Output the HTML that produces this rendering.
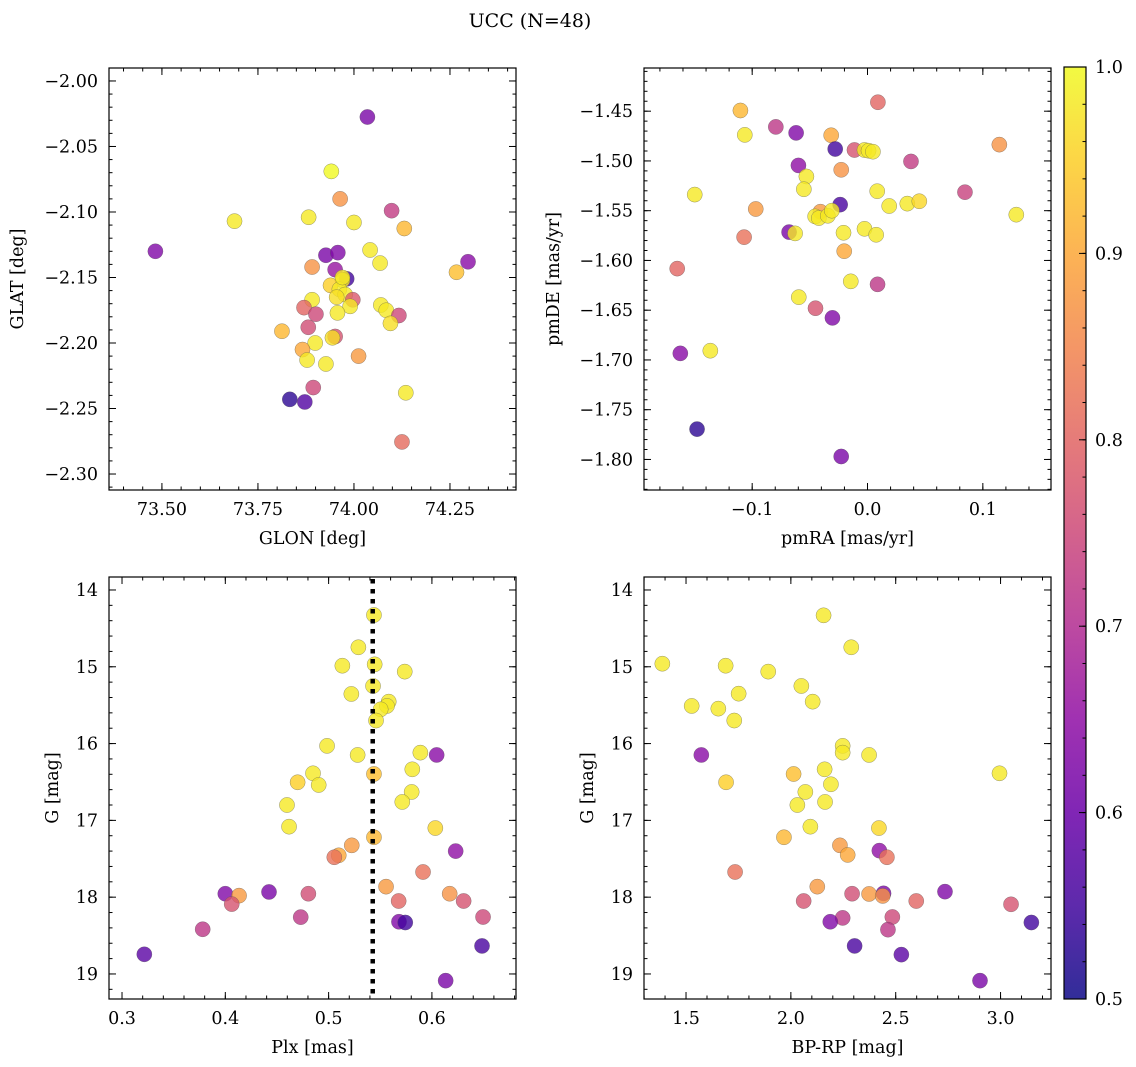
<!DOCTYPE html>
<html><head><meta charset="utf-8"><style>
html,body{margin:0;padding:0;background:#fff;}
svg{display:block;font-family:"DejaVu Serif","Liberation Serif",serif;}
</style></head><body>
<svg id="fig" width="1136" height="1067" viewBox="0 0 1136 1067" xmlns="http://www.w3.org/2000/svg">
<defs><linearGradient id="cbgrad" x1="0" y1="1" x2="0" y2="0"></linearGradient></defs>
<text x="530" y="27" text-anchor="middle" font-size="19">UCC (N=48)</text>
</svg>
<script>
// Panel 1: GLON vs GLAT
const glon = [74.035,73.941,73.964,74.098,73.882,74.0,74.131,73.689,73.483,73.927,73.958,74.042,74.068,74.297,74.267,73.891,73.951,73.981,73.97,73.939,73.962,73.977,73.997,73.99,73.891,73.870,73.901,74.070,74.084,74.117,74.095,73.957,73.881,73.8125,73.951,73.944,73.899,73.866,73.878,73.927,74.012,73.894,73.833,73.872,74.135,74.125,73.97,73.955];
const glat = [-2.0275,-2.069,-2.090,-2.099,-2.104,-2.108,-2.1126,-2.107,-2.130,-2.133,-2.131,-2.129,-2.139,-2.138,-2.146,-2.142,-2.144,-2.151,-2.152,-2.156,-2.159,-2.163,-2.167,-2.172,-2.167,-2.173,-2.178,-2.171,-2.175,-2.179,-2.185,-2.177,-2.188,-2.191,-2.195,-2.196,-2.2,-2.205,-2.213,-2.216,-2.210,-2.234,-2.243,-2.245,-2.238,-2.2755,-2.150,-2.165];
const prob1 = [0.62,1.0,0.87,0.73,0.98,0.98,0.92,0.98,0.63,0.62,0.63,0.98,0.98,0.64,0.93,0.87,0.66,0.55,0.98,0.95,0.98,0.98,0.78,0.98,0.98,0.8,0.75,0.98,0.98,0.75,0.97,0.98,0.76,0.92,0.77,0.97,0.98,0.9,0.98,0.98,0.88,0.75,0.53,0.57,0.98,0.81,0.98,0.97];
// Panel 2: proper motions
const pmra = [-0.1102,-0.1064,0.009,-0.0795,-0.0619,-0.0315,-0.028,-0.0113,-0.0026,0.0009,0.0047,0.1143,0.0377,-0.0599,-0.0228,-0.053,-0.0552,0.0084,-0.1498,0.0845,0.0188,0.0345,0.0449,0.129,-0.0969,-0.0237,-0.0408,-0.0454,-0.0422,-0.0344,-0.0309,-0.0026,0.0075,-0.0208,-0.068,-0.0628,-0.107,-0.0202,-0.165,-0.0145,0.0087,-0.0596,-0.0451,-0.0304,-0.1623,-0.1363,-0.1478,-0.0228];
const pmde = [-1.4493,-1.4738,-1.441,-1.4658,-1.4718,-1.4742,-1.488,-1.489,-1.489,-1.4897,-1.4907,-1.4836,-1.5005,-1.5045,-1.5089,-1.5156,-1.5284,-1.5304,-1.5338,-1.5314,-1.5453,-1.5429,-1.5405,-1.554,-1.5483,-1.5439,-1.551,-1.5557,-1.5574,-1.5551,-1.550,-1.5682,-1.5742,-1.5722,-1.5715,-1.5728,-1.5766,-1.5907,-1.6082,-1.621,-1.624,-1.6369,-1.648,-1.6577,-1.6934,-1.6907,-1.7695,-1.797];
const prob2 = [0.92,0.98,0.8,0.72,0.63,0.9,0.55,0.77,0.98,0.98,0.98,0.87,0.73,0.65,0.87,0.98,0.98,0.98,0.98,0.74,0.98,0.98,0.96,0.98,0.88,0.56,0.88,0.98,0.98,0.98,0.98,0.98,0.98,0.98,0.62,0.98,0.82,0.9,0.8,0.98,0.72,0.98,0.77,0.63,0.64,0.98,0.53,0.62];
// Panels 3 & 4: CMD
const plx = [0.5439,0.5288,0.5133,0.5446,0.5737,0.543,0.522,0.5582,0.5565,0.5504,0.5459,0.4985,0.5281,0.5888,0.6046,0.581,0.5439,0.4849,0.470,0.4904,0.5804,0.5713,0.4597,0.4617,0.6033,0.5439,0.5224,0.623,0.5098,0.5055,0.5914,0.5556,0.4,0.4133,0.4423,0.4804,0.6172,0.4062,0.5678,0.6307,0.473,0.6495,0.5681,0.5742,0.3781,0.3216,0.6485,0.6133];
const gmag = [14.326,14.746,14.986,14.968,15.063,15.25,15.354,15.454,15.51,15.554,15.70,16.03,16.148,16.118,16.148,16.335,16.396,16.387,16.504,16.539,16.63,16.76,16.80,17.082,17.10,17.22,17.325,17.40,17.455,17.48,17.672,17.863,17.955,17.98,17.932,17.955,17.955,18.09,18.05,18.05,18.26,18.258,18.32,18.33,18.418,18.744,18.635,19.087];
const gmag4 = [14.33,14.746,14.96,14.986,15.063,15.25,15.35,15.454,15.51,15.545,15.70,16.03,16.118,16.148,16.148,16.335,16.396,16.387,16.504,16.53,16.63,16.76,16.80,17.082,17.10,17.22,17.325,17.394,17.45,17.48,17.672,17.863,17.928,17.958,17.95,17.955,17.984,18.093,18.05,18.05,18.27,18.258,18.32,18.33,18.423,18.748,18.635,19.087];
const bprp = [2.156,2.288,1.387,1.689,1.892,2.05,1.751,2.104,1.527,1.654,1.730,2.247,2.247,2.373,1.573,2.161,2.013,2.995,1.691,2.191,2.069,2.163,2.031,2.093,2.420,1.967,2.234,2.422,2.271,2.458,1.734,2.126,2.735,2.373,2.442,2.292,2.438,3.05,2.598,2.061,2.247,2.484,2.188,3.147,2.463,2.527,2.304,2.902];
const prob34 = [0.98,0.98,0.98,0.98,0.98,0.98,0.98,0.98,0.98,0.98,0.98,0.98,0.98,0.98,0.64,0.98,0.93,0.98,0.95,0.98,0.98,0.98,0.98,0.98,0.96,0.92,0.88,0.65,0.9,0.82,0.82,0.88,0.63,0.88,0.62,0.76,0.87,0.77,0.8,0.77,0.72,0.75,0.63,0.55,0.72,0.58,0.56,0.62];
const plxMean = [0.5427];
const cbTicks = [0.5,0.6,0.7,0.8,0.9,1.0];

const NS = "http://www.w3.org/2000/svg";
const svg = document.getElementById('fig');
const FS = 17.5;
const plasma = [[13,8,135],[65,4,157],[106,0,168],[143,13,164],[177,42,144],[204,71,120],[225,100,98],[242,132,75],[252,166,54],[252,206,37],[240,249,33]];
function cmap(p){
  let t=Math.max(0,Math.min(1,(p-0.5)/0.5))*10; let i=Math.min(9,Math.floor(t)); let f=t-i;
  const a=plasma[i],b=plasma[i+1];
  return 'rgb('+a.map((v,k)=>Math.round(v+(b[k]-v)*f)).join(',')+')';
}
function el(tag,attrs,parent){const e=document.createElementNS(NS,tag);for(const k in attrs)e.setAttribute(k,attrs[k]);(parent||svg).appendChild(e);return e;}
function fmt(v,d){const s=Math.abs(v).toFixed(d);return (v<-1e-9?'\u2212':'')+s;}

function panel(o){
  const g=el('g',{});
  
  
  const X=v=>o.x0+(v-o.xmin)/(o.xmax-o.xmin)*(o.x1-o.x0);
  const Y=o.yinv?(v=>o.y0+(v-o.ymin)/(o.ymax-o.ymin)*(o.y1-o.y0)):(v=>o.y1-(v-o.ymin)/(o.ymax-o.ymin)*(o.y1-o.y0));
  const pg=el('g',{},g);
  
  
  for(let i=0;i<o.xs.length;i++){
    const c=el('circle',{cx:X(o.xs[i]),cy:Y(o.ys[i]),r:7.6,fill:cmap(o.ps[i]),'fill-opacity':0.8,stroke:'#555','stroke-opacity':0.6,'stroke-width':0.5},pg);
    
    
  }
  if(o.extra) o.extra(g,X,Y);
  const fr=el('rect',{x:o.x0,y:o.y0,width:o.x1-o.x0,height:o.y1-o.y0,fill:'none',stroke:'#000','stroke-width':1.2},g);
  
  
  const tg=el('g',{stroke:'#000','stroke-width':1},g);
  function xt(v,len){const x=X(v);el('line',{x1:x,y1:o.y1,x2:x,y2:o.y1-len},tg);el('line',{x1:x,y1:o.y0,x2:x,y2:o.y0+len},tg);}
  function yt(v,len){const y=Y(v);el('line',{x1:o.x0,y1:y,x2:o.x0+len,y2:y},tg);el('line',{x1:o.x1,y1:y,x2:o.x1-len,y2:y},tg);}
  const lo=Math.min(o.xmin,o.xmax),hi=Math.max(o.xmin,o.xmax);
  for(let k=Math.ceil(lo/o.xminor-1e-6);k*o.xminor<=hi+1e-9;k++) xt(k*o.xminor,3.5);
  const ylo=Math.min(o.ymin,o.ymax),yhi=Math.max(o.ymin,o.ymax);
  for(let k=Math.ceil(ylo/o.yminor-1e-6);k*o.yminor<=yhi+1e-9;k++) yt(k*o.yminor,3.5);
  o.xticks.forEach(v=>{xt(v,7);const t=el('text',{x:X(v),y:o.y1+25,'text-anchor':'middle','font-size':FS},g);t.textContent=fmt(v,o.xd);
    
    });
  o.yticks.forEach(v=>{yt(v,7);const t=el('text',{x:o.x0-11,y:Y(v)+6,'text-anchor':'end','font-size':FS},g);t.textContent=fmt(v,o.yd);
    
    });
  const xl=el('text',{x:(o.x0+o.x1)/2,y:o.y1+54,'text-anchor':'middle','font-size':FS},g);xl.textContent=o.xlabel;
  
  
  const yx=o.ylx, yy=(o.y0+o.y1)/2;
  const yl=el('text',{x:yx,y:yy,'text-anchor':'middle','font-size':FS,transform:'rotate(-90 '+yx+' '+yy+')'},g);yl.textContent=o.ylabel;
  
  
}

panel({name:'glon-glat-panel',x0:109,x1:516,y0:68,y1:490,xmin:73.3622,xmax:74.4219,ymin:-2.3122,ymax:-1.9901,
  xs:glon,ys:glat,ps:prob1,xticks:[73.5,73.75,74.0,74.25],xd:2,yticks:[-2.0,-2.05,-2.1,-2.15,-2.2,-2.25,-2.3],yd:2,
  xminor:0.05,yminor:0.01,xlabel:'GLON [deg]',ylabel:'GLAT [deg]',ylx:23});
panel({name:'proper-motion-panel',x0:644,x1:1051,y0:68,y1:490,xmin:-0.1938,xmax:0.1591,ymin:-1.8307,ymax:-1.4066,
  xs:pmra,ys:pmde,ps:prob2,xticks:[-0.1,0.0,0.1],xd:1,yticks:[-1.45,-1.5,-1.55,-1.6,-1.65,-1.7,-1.75,-1.8],yd:2,
  xminor:0.02,yminor:0.01,xlabel:'pmRA [mas/yr]',ylabel:'pmDE [mas/yr]',ylx:559});
panel({name:'plx-g-panel',x0:109,x1:516,y0:577,y1:999,xmin:0.2874,xmax:0.6814,ymin:13.831,ymax:19.326,yinv:true,
  xs:plx,ys:gmag,ps:prob34,xticks:[0.3,0.4,0.5,0.6],xd:1,yticks:[14,15,16,17,18,19],yd:0,
  xminor:0.02,yminor:0.2,xlabel:'Plx [mas]',ylabel:'G [mag]',ylx:58,
  extra:(g,X,Y)=>{const l=el('line',{x1:X(plxMean[0]),x2:X(plxMean[0]),y1:579,y2:999,stroke:'#000','stroke-width':4.5,'stroke-dasharray':'4.5 5.5'},g);
    
    }});
panel({name:'cmd-panel',x0:644,x1:1051,y0:577,y1:999,xmin:1.2996,xmax:3.2406,ymin:13.831,ymax:19.326,yinv:true,
  xs:bprp,ys:gmag4,ps:prob34,xticks:[1.5,2.0,2.5,3.0],xd:1,yticks:[14,15,16,17,18,19],yd:0,
  xminor:0.1,yminor:0.2,xlabel:'BP-RP [mag]',ylabel:'G [mag]',ylx:593});

const grad=document.getElementById('cbgrad');
for(let i=0;i<=10;i++){el('stop',{offset:(i*10)+'%','stop-color':cmap(0.5+i*0.05),'stop-opacity':0.85},grad);}
const cb=el('g',{});


const cbx0=1064,cbx1=1086,cby0=67,cby1=999;
el('rect',{x:cbx0,y:cby0,width:cbx1-cbx0,height:cby1-cby0,fill:'url(#cbgrad)',stroke:'#000','stroke-width':1.2},cb);
const CY=v=>cby1-(v-0.5)/0.5*(cby1-cby0);
for(let k=25;k<=50;k++){const v=k*0.02;const y=CY(v);el('line',{x1:cbx1,x2:cbx1-3.5,y1:y,y2:y,stroke:'#000','stroke-width':1},cb);}
cbTicks.forEach(v=>{const y=CY(v);el('line',{x1:cbx1,x2:cbx1-7,y1:y,y2:y,stroke:'#000','stroke-width':1},cb);
  const t=el('text',{x:1095,y:y+6,'font-size':FS},cb);t.textContent=v.toFixed(1);
  
  });
</script>
</body></html>
